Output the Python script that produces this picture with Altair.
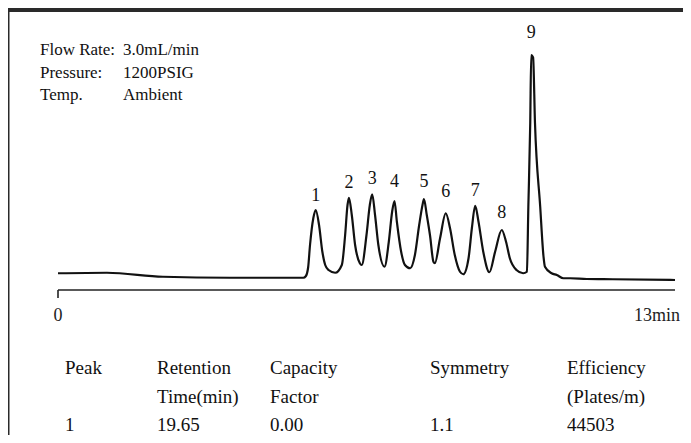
import altair as alt
import pandas as pd

# ---- data ----
trace_time = [0.0, 1.03, 2.21, 3.62, 5.17, 5.22, 5.27, 5.31, 5.38, 5.43,
              5.50, 5.57, 5.63, 5.70, 5.84, 5.98, 6.05, 6.10, 6.13, 6.19,
              6.26, 6.36, 6.40, 6.50, 6.57, 6.62, 6.68, 6.75, 6.88, 6.97,
              7.04, 7.09, 7.14, 7.23, 7.31, 7.42, 7.52, 7.61, 7.68, 7.71,
              7.77, 7.84, 7.91, 7.94, 8.05, 8.17, 8.26, 8.36, 8.47, 8.54,
              8.65, 8.72, 8.79, 8.86, 8.96, 9.09, 9.21, 9.35, 9.44, 9.52,
              9.66, 9.80, 9.88, 9.91, 9.95, 9.97, 10.01, 10.05, 10.16, 10.23,
              10.26, 10.40, 10.51, 10.65, 10.79, 11.14, 11.69, 13.0]
trace_signal = [6.7, 6.9, 5.3, 4.9, 4.9, 5.5, 9.0, 18, 28.8, 32,
                26, 15.3, 10, 8, 6.9, 10, 22, 34, 36.9, 30,
                18, 10.7, 10, 22, 34, 38.3, 30, 18, 9.3, 19.3,
                31.3, 35.6, 27.3, 15.3, 10, 8.7, 14, 26, 34, 36.4,
                30, 21.6, 11.3, 10.7, 20.7, 30.7, 24.7, 14, 7.3, 6.3,
                12.7, 24.7, 33.7, 27.3, 15.3, 7.1, 15.3, 24, 19.3, 12.7,
                8, 6.7, 7.3, 33.3, 66.8, 94, 93, 66.8, 33.3, 13.3,
                9.3, 6.7, 6, 4.7, 4.7, 4.4, 4.3, 4.0]

peak_ids = ["1", "2", "3", "4", "5", "6", "7", "8", "9"]
peak_time = [5.43, 6.13, 6.62, 7.09, 7.71, 8.17, 8.79, 9.35, 9.97]
peak_height = [32, 36.9, 38.3, 35.6, 36.4, 30.7, 33.7, 24, 94]

axis_start = 0
axis_end = 13
axis_labels = ["0", "13min"]

cond_names = ["Flow Rate:", "Pressure:", "Temp."]
cond_values = ["3.0mL/min", "1200PSIG", "Ambient"]

table_header1 = ["Peak", "Retention", "Capacity", "Symmetry", "Efficiency"]
table_header2 = ["", "Time(min)", "Factor", "", "(Plates/m)"]
table_row1 = ["1", "19.65", "0.00", "1.1", "44503"]

# ---- layout (pixels within the chart) ----
W, H = 675, 427
x0_px, x13_px = 50, 667
ppm = (x13_px - x0_px) / 13.0
axis_px = 282
ppu = 2.5
xdom = [-x0_px / ppm, (W - x0_px) / ppm]
ydom = [-(H - axis_px) / ppu, axis_px / ppu]
xs = alt.Scale(domain=xdom, nice=False, zero=False)
ys = alt.Scale(domain=ydom, nice=False, zero=False)
SERIF = "Liberation Serif"

trace = pd.DataFrame({"t": trace_time, "s": trace_signal})
line = alt.Chart(trace).mark_line(color="#111", strokeWidth=2.2, interpolate="monotone").encode(
    x=alt.X("t:Q", scale=xs, axis=None),
    y=alt.Y("s:Q", scale=ys, axis=None),
)

label_dy = [14, 15, 15, 19, 17, 21, 15, 17, 22]
pk = pd.DataFrame({"id": peak_ids, "t": peak_time, "s": peak_height, "dy": label_dy})
pk["s_lab"] = pk["s"] + pk["dy"] / ppu
labels = alt.Chart(pk).mark_text(font=SERIF, fontSize=18, color="#111", baseline="middle").encode(
    x=alt.X("t:Q", scale=xs, axis=None),
    y=alt.Y("s_lab:Q", scale=ys, axis=None),
    text="id:N",
)

ax = pd.DataFrame({"a": [axis_start], "b": [axis_end], "y": [0]})
axis_line = alt.Chart(ax).mark_rule(color="#222", strokeWidth=1.6).encode(
    x=alt.X("a:Q", scale=xs, axis=None), x2="b:Q",
    y=alt.Y("y:Q", scale=ys, axis=None),
)
tick = alt.Chart(ax).mark_rule(color="#222", strokeWidth=1.6).encode(
    x=alt.X("a:Q", scale=xs, axis=None),
    y=alt.Y("y:Q", scale=ys, axis=None),
    y2=alt.Y2(datum=-8 / ppu),
)
axl = pd.DataFrame({"t": [axis_start, axis_end], "lab": axis_labels})
axis_text0 = alt.Chart(axl.iloc[[0]]).mark_text(font=SERIF, fontSize=18, color="#222",
                                                 baseline="middle", align="center").encode(
    x=alt.X("t:Q", scale=xs, axis=None),
    y=alt.value(axis_px + 26), text="lab:N")
axis_text1 = alt.Chart(axl.iloc[[1]]).mark_text(font=SERIF, fontSize=18, color="#222",
                                                 baseline="middle", align="right", dx=5).encode(
    x=alt.X("t:Q", scale=xs, axis=None),
    y=alt.value(axis_px + 26), text="lab:N")

cond = pd.DataFrame({"name": cond_names, "val": cond_values, "row": [0, 1, 2]})
cond["py"] = 42 + cond["row"] * 22.5
cond_n = alt.Chart(cond).mark_text(font=SERIF, fontSize=17, color="#111", align="left",
                                   baseline="middle").encode(
    x=alt.value(32), y=alt.Y("py:Q", scale=None), text="name:N")
cond_v = alt.Chart(cond).mark_text(font=SERIF, fontSize=17, color="#111", align="left",
                                   baseline="middle").encode(
    x=alt.value(115), y=alt.Y("py:Q", scale=None), text="val:N")

col_px = [57, 149, 262, 422, 559]
row_base = [366, 395, 423]
rows = []
for r, vals in enumerate([table_header1, table_header2, table_row1]):
    for c, v in enumerate(vals):
        if v:
            rows.append({"txt": v, "px": col_px[c], "py": row_base[r]})
tab = pd.DataFrame(rows)
table = alt.Chart(tab).mark_text(font=SERIF, fontSize=19, color="#111", align="left",
                                 baseline="alphabetic").encode(
    x=alt.X("px:Q", scale=None), y=alt.Y("py:Q", scale=None), text="txt:N")

frame = pd.DataFrame({"x": [0], "x2": [W], "y": [0], "y2": [4]})
top_band = alt.Chart(frame).mark_rect(color="#2a2a2a").encode(
    x=alt.X("x:Q", scale=None), x2="x2:Q", y=alt.Y("y:Q", scale=None), y2="y2:Q")
frame_l = pd.DataFrame({"x": [0], "x2": [1.5], "y": [0], "y2": [H]})
left_band = alt.Chart(frame_l).mark_rect(color="#2a2a2a").encode(
    x=alt.X("x:Q", scale=None), x2="x2:Q", y=alt.Y("y:Q", scale=None), y2="y2:Q")

chart = alt.layer(top_band, left_band, line, labels, axis_line, tick, axis_text0, axis_text1,
                  cond_n, cond_v, table).properties(
    width=W, height=H, padding=0, autosize=alt.AutoSizeParams(type="none"),
    background="white",
).configure_view(stroke=None)

chart.save("out.html", embed_options={"renderer": "svg", "actions": False})
